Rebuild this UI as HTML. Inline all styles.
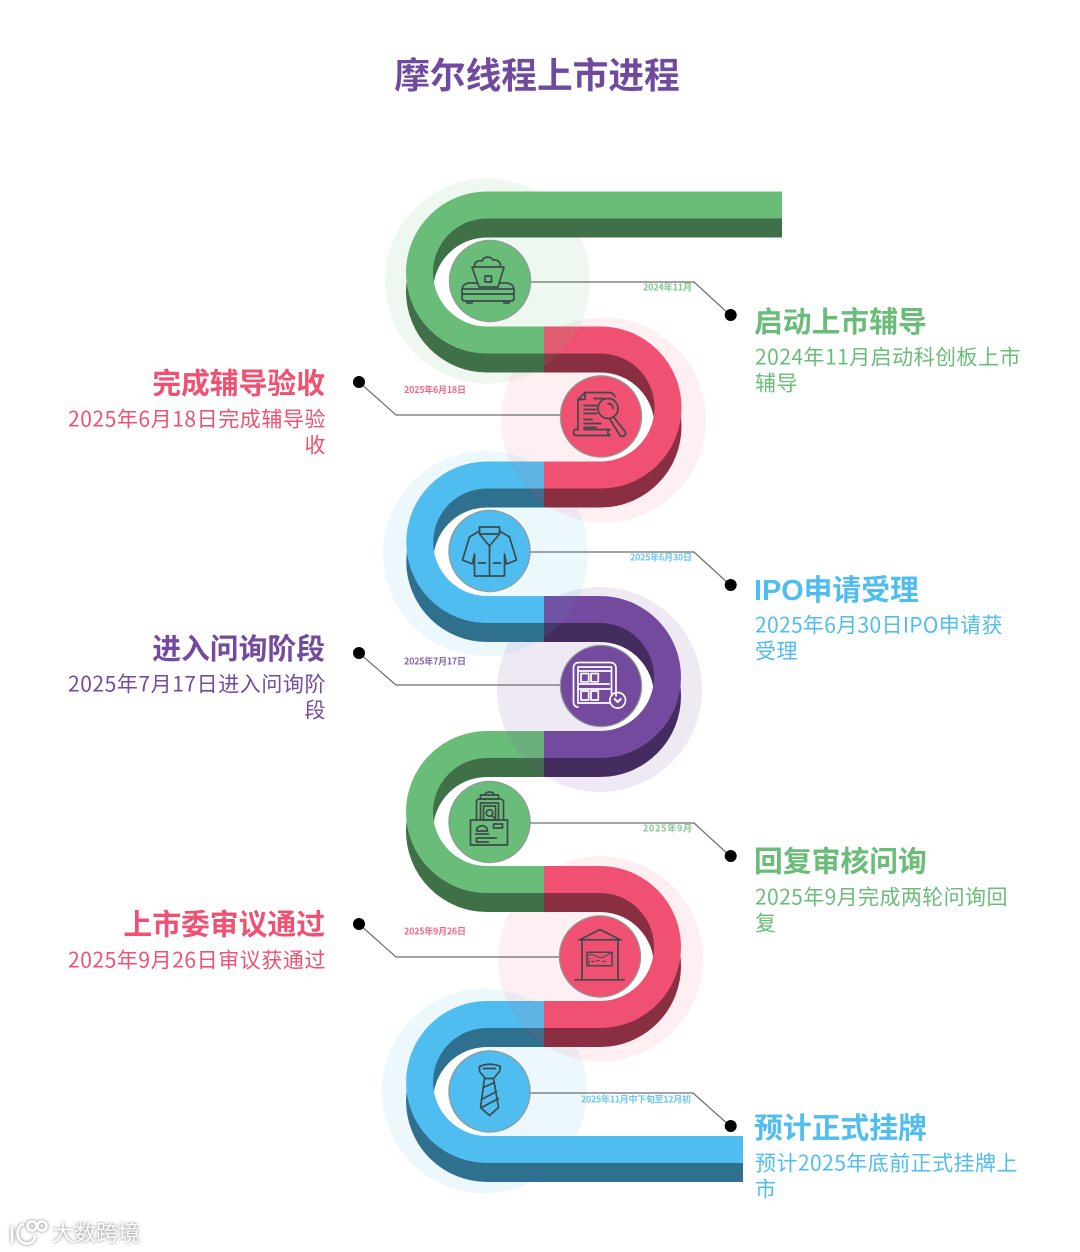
<!DOCTYPE html>
<html lang="zh">
<head>
<meta charset="utf-8">
<title>摩尔线程上市进程</title>
<style>
html,body{margin:0;padding:0;background:#fff;}
body{width:1080px;height:1252px;overflow:hidden;}
svg{display:block;}
text{font-family:"Liberation Sans","Noto Sans CJK SC",sans-serif;}
.h{font-size:28.8px;font-weight:700;}
.b{font-size:21px;letter-spacing:.55px;font-family:"Noto Sans CJK SC","Liberation Sans",sans-serif;}
.d{font-size:9px;font-weight:700;opacity:.85;font-family:"Noto Sans CJK SC","Liberation Sans",sans-serif;}
.ic{fill:none;stroke:#3d4a4a;stroke-width:1.7;stroke-linejoin:round;stroke-linecap:round;}
.w{stroke:#fff;}
</style>
</head>
<body>
<svg width="1080" height="1252" viewBox="0 0 1080 1252" xmlns="http://www.w3.org/2000/svg">
<defs>
<linearGradient id="fl" x1="0" x2="1" y1="0" y2="0"><stop offset="0" stop-color="#fff"/><stop offset=".3" stop-color="#fff"/><stop offset=".55" stop-color="#fff" stop-opacity="0"/></linearGradient>
<linearGradient id="fr" x1="1" x2="0" y1="0" y2="0"><stop offset="0" stop-color="#fff"/><stop offset=".3" stop-color="#fff"/><stop offset=".55" stop-color="#fff" stop-opacity="0"/></linearGradient>
</defs>

<g fill="none" stroke-width="27">
<!-- blue 2 -->
<circle cx="484.5" cy="1091" r="102.5" fill="#4fbdf0" fill-opacity=".1" stroke="none"/>
<circle cx="487" cy="1082" r="54" fill="url(#fl)" stroke="none"/>
<path d="M544,1014.5H487A67.5,67.5 0 0 0 487,1149.5H743" stroke="#30708f" transform="translate(0,19)"/>
<path d="M544,1014.5H487A67.5,67.5 0 0 0 487,1149.5H743" stroke="#4fbdf0"/>
<!-- red 2 -->
<circle cx="600.5" cy="959" r="102.5" fill="#f05172" fill-opacity=".09" stroke="none"/>
<circle cx="600" cy="947" r="54" fill="url(#fr)" stroke="none"/>
<path d="M544,879.5H600A67.5,67.5 0 0 1 600,1014.5H544" stroke="#8a2e41" transform="translate(0,19)"/>
<path d="M544,879.5H600A67.5,67.5 0 0 1 600,1014.5H544" stroke="#f05172"/>
<!-- green 2 -->
<path d="M544,744.5H487A67.5,67.5 0 0 0 487,879.5H544" stroke="#3f7047" transform="translate(0,19)"/>
<path d="M544,744.5H487A67.5,67.5 0 0 0 487,879.5H544" stroke="#6abd78"/>
<!-- purple -->
<circle cx="599.5" cy="689.5" r="102.5" fill="#744a9e" fill-opacity=".12" stroke="none"/>
<circle cx="600" cy="677" r="54" fill="url(#fr)" stroke="none"/>
<path d="M544,609.5H600A67.5,67.5 0 0 1 600,744.5H544" stroke="#442c5e" transform="translate(0,19)"/>
<path d="M544,609.5H600A67.5,67.5 0 0 1 600,744.5H544" stroke="#744a9e"/>
<!-- blue 1 -->
<circle cx="485.5" cy="553.5" r="102.5" fill="#4fbdf0" fill-opacity=".1" stroke="none"/>
<circle cx="487" cy="542" r="54" fill="url(#fl)" stroke="none"/>
<path d="M544,475H487A67.25,67.25 0 0 0 487,609.5H544" stroke="#30708f" transform="translate(0,19)"/>
<path d="M544,475H487A67.25,67.25 0 0 0 487,609.5H544" stroke="#4fbdf0"/>
<!-- red 1 -->
<circle cx="603.5" cy="420" r="102.5" fill="#f05172" fill-opacity=".09" stroke="none"/>
<circle cx="600.5" cy="407.5" r="54" fill="url(#fr)" stroke="none"/>
<path d="M544,340H600.5A67.5,67.5 0 0 1 600.5,475H544" stroke="#8a2e41" transform="translate(0,19)"/>
<path d="M544,340H600.5A67.5,67.5 0 0 1 600.5,475H544" stroke="#f05172"/>
<!-- green 1 -->
<circle cx="487.5" cy="281" r="102.5" fill="#6abd78" fill-opacity=".11" stroke="none"/>
<circle cx="487" cy="273" r="54" fill="url(#fl)" stroke="none"/>
<path d="M782,205H487A67.5,67.5 0 0 0 487,340H544" stroke="#3f7047" transform="translate(0,19)"/>
<path d="M782,205H487A67.5,67.5 0 0 0 487,340H544" stroke="#6abd78"/>
</g>

<!-- connectors -->
<g fill="none" stroke="#6e6e6e" stroke-width="1.2">
<path d="M530,282H694L730,315"/>
<path d="M560,415H396L359,382"/>
<path d="M530,552H694L730,585"/>
<path d="M560,685H396L359,653"/>
<path d="M530,823H694L730,856"/>
<path d="M559,957H396L359,924"/>
<path d="M530,1093H693L730,1126"/>
</g>
<g fill="#000">
<circle cx="730.7" cy="315" r="6"/><circle cx="359" cy="382" r="6"/>
<circle cx="730.7" cy="585" r="6"/><circle cx="359" cy="653" r="6"/>
<circle cx="730.7" cy="856" r="6"/><circle cx="359" cy="924" r="6"/>
<circle cx="730.7" cy="1126" r="6"/>
</g>

<!-- icon circles -->
<g stroke="#8e9a94" stroke-width="1.2">
<circle cx="490" cy="281" r="40.6" fill="#6abd78"/>
<circle cx="601" cy="416.5" r="40.6" fill="#f05172"/>
<circle cx="489.5" cy="551" r="40.6" fill="#4fbdf0"/>
<circle cx="601" cy="686" r="40.6" fill="#744a9e"/>
<circle cx="489.5" cy="822" r="40.6" fill="#6abd78"/>
<circle cx="600" cy="956.5" r="40.6" fill="#f05172"/>
<circle cx="489.5" cy="1091.5" r="40.6" fill="#4fbdf0"/>
</g>

<!-- icon 1 -->
<g class="ic" transform="translate(490,281)">
<path d="M-18,-14H14L8,6H-11Z"/>
<path d="M-15,-14C-17,-19 -11,-21 -8,-20C-6,-25 1,-25 3,-21C7,-22 12,-18 10,-14"/>
<rect x="-5" y="-5" width="6.500" height="6"/>
<path d="M-13,2H-20C-25,2 -28,5 -28,9V17C-28,19 -27,20 -25,20H21C23,20 24,19 24,17V9C24,5 21,2 16,2H9"/>
<path d="M-28,8H24M-28,13H24"/>
<path d="M-23,20V22H-18V20M14,20V22H19V20"/>
</g>
<!-- icon 2 -->
<g class="ic" transform="translate(601,416.500)">
<path d="M-16,-24H8C11,-24 13,-22 14,-20"/>
<path d="M-16,-24L-23,-17V13"/>
<path d="M-16,-24V-17H-23"/>
<path d="M-17,-11H-4M-17,-7H-5M-17,-3H-4M-17,3H-9M-17,7H0M-17,11H-5"/>
<path d="M-7,-18H3"/>
<circle cx="7" cy="-8" r="10"/>
<path d="M7,-13C10,-13 12,-11 12,-8"/>
<path d="M13,1L24,15C26,19 22,21 19,19L9,3"/>
<path d="M-23,13H-26C-28,14 -28,19 -25,19H9C6,18 6,14 9,13H-17"/>
</g>
<!-- icon 3 -->
<g class="ic" transform="translate(489.500,551)">
<path d="M-10,-24H10V-17H-10Z"/>
<path d="M-10,-20L-20,-14L-27,9L-17,13L-15,3V25H15V3L17,13L27,9L20,-14L10,-20"/>
<path d="M-10,-17L0,-5L10,-17"/>
<path d="M0,-5V25"/>
<path d="M-11,12H-4M4,12H11"/>
</g>
<!-- icon 4 -->
<g class="ic w" transform="translate(601,686)">
<path d="M-23,21C-26,21 -27.500,19 -27.500,16V-18C-27.500,-22 -25,-23.500 -22,-23.500H9C13,-23.500 15,-21 15,-18V10"/>
<path d="M-23,17V-19H10.500V8"/>
<path d="M-23,-15H10.500M-23,-2H8M-23,3H9M-23,17H8"/>
<rect x="-20" y="-12.500" width="7.700" height="8.300"/>
<rect x="-10" y="-12.500" width="7.300" height="8.300"/>
<rect x="-20" y="5" width="7.700" height="9"/>
<rect x="-10" y="5" width="7.300" height="9"/>
<circle cx="16.700" cy="14.300" r="7.800"/>
<path d="M13.700,13L16.700,16L19.700,13" stroke-width="2"/>
</g>
<!-- icon 5 -->
<g class="ic" transform="translate(489.500,822)">
<path d="M-5,-27C-4,-31 4,-31 5,-27"/>
<path d="M-9,-27H9V-23H-9Z"/>
<path d="M-13,-3V-20C-13,-22 -12,-23 -10,-23H10C12,-23 14,-22 14,-20V-3"/>
<rect x="-9" y="-19" width="18" height="17"/>
<rect x="-6" y="-16" width="12" height="14"/>
<circle cx="0" cy="-9" r="3.300"/><path d="M2.500,-6.500L5,-4"/>
<rect x="-19" y="-2" width="37" height="25"/>
<path d="M-13,9C-13,2 -2,2 -2,9ZM-14,12H-1"/>
<rect x="4" y="2" width="9" height="4"/>
<path d="M-13,16H7M-13,16V20H-1"/>
</g>
<!-- icon 6 -->
<g class="ic" transform="translate(600,956.500)">
<path d="M-20,-16.700L0,-27L20,-16.700"/>
<path d="M-21,-16.700H21"/>
<path d="M-18,-16.700V23M18,-16.700V23"/>
<path d="M-25,23.300H24"/>
<rect x="-13" y="-4.300" width="25" height="13.600" stroke-width="1.500"/>
<path d="M-12,-1C-7,-4 -4,1 1,1C6,1 7,-3 11,-3M-11,2V8" stroke-width="1"/>
<path d="M-8,5H-6M-3,4H-1M3,5H5" stroke-width="1.200"/>
</g>
<!-- icon 7 -->
<g class="ic" transform="translate(489.500,1091.500)">
<path d="M-10,-25C-4,-28 4,-28 11,-25L10,-20L4,-13H-4L-10,-20Z"/>
<path d="M-6,-23H6"/>
<path d="M-5,-13L-9,16L0,24L9,16L4,-13"/>
<path d="M-6,-4L5,-9M-8,8L7,0M-8,16L9,7"/>
</g>

<!-- title -->
<text x="537" y="88" text-anchor="middle" font-size="35.700" font-weight="700" fill="#6f4a9e">摩尔线程上市进程</text>

<!-- date labels -->
<text class="d" x="643" y="290.500" textLength="49" fill="#6abd78">2024年11月</text>
<text class="d" x="404" y="393" textLength="62" fill="#f05172">2025年6月18日</text>
<text class="d" x="630" y="560.500" textLength="62" fill="#4fbdf0">2025年6月30日</text>
<text class="d" x="404" y="664.500" textLength="62" fill="#744a9e">2025年7月17日</text>
<text class="d" x="643" y="831.500" textLength="49" fill="#6abd78">2025年9月</text>
<text class="d" x="404" y="934.500" textLength="62" fill="#f05172">2025年9月26日</text>
<text class="d" x="581" y="1102.500" textLength="110" fill="#4fbdf0">2025年11月中下旬至12月初</text>

<!-- right blocks -->
<g fill="#6abd78">
<text class="h" x="754" y="332">启动上市辅导</text>
<text class="b" x="755" y="364.500" textLength="266">2024年11月启动科创板上市</text>
<text class="b" x="755" y="390.500">辅导</text>
</g>
<g fill="#4fbdf0">
<text class="h" x="754" y="600">IPO申请受理</text>
<text class="b" x="755" y="632.500" textLength="248">2025年6月30日IPO申请获</text>
<text class="b" x="755" y="658.500">受理</text>
</g>
<g fill="#6abd78">
<text class="h" x="754" y="871.500">回复审核问询</text>
<text class="b" x="755" y="904.500" textLength="253">2025年9月完成两轮问询回</text>
<text class="b" x="755" y="930.500">复</text>
</g>
<g fill="#4fbdf0">
<text class="h" x="754" y="1138">预计正式挂牌</text>
<text class="b" x="755" y="1170.500" textLength="263">预计2025年底前正式挂牌上</text>
<text class="b" x="755" y="1196.500">市</text>
</g>

<!-- left blocks -->
<g fill="#f05172">
<text class="h" x="325" y="393.500" text-anchor="end">完成辅导验收</text>
<text class="b" x="68" y="426.500" textLength="258">2025年6月18日完成辅导验</text>
<text class="b" x="326" y="452.500" text-anchor="end">收</text>
</g>
<g fill="#744a9e">
<text class="h" x="325" y="659" text-anchor="end">进入问询阶段</text>
<text class="b" x="68" y="691.500" textLength="258">2025年7月17日进入问询阶</text>
<text class="b" x="326" y="717.500" text-anchor="end">段</text>
</g>
<g fill="#f05172">
<text class="h" x="325" y="934.500" text-anchor="end">上市委审议通过</text>
<text class="b" x="68" y="967.500" textLength="258">2025年9月26日审议获通过</text>
</g>

<!-- watermark -->
<g style="filter:drop-shadow(0 0 1.500px #777)">
<g fill="none" stroke="#fff" stroke-width="2.600">
<path d="M12,1226V1243"/>
<path d="M24,1224C16,1226 15,1240 24,1243C30,1245 35,1241 35,1236"/>
<circle cx="32" cy="1226" r="4.500"/>
<circle cx="42" cy="1226" r="4.500"/>
</g>
<text x="52" y="1241" font-size="22" fill="#fff">大数跨境</text>
</g>
</svg>
</body>
</html>
